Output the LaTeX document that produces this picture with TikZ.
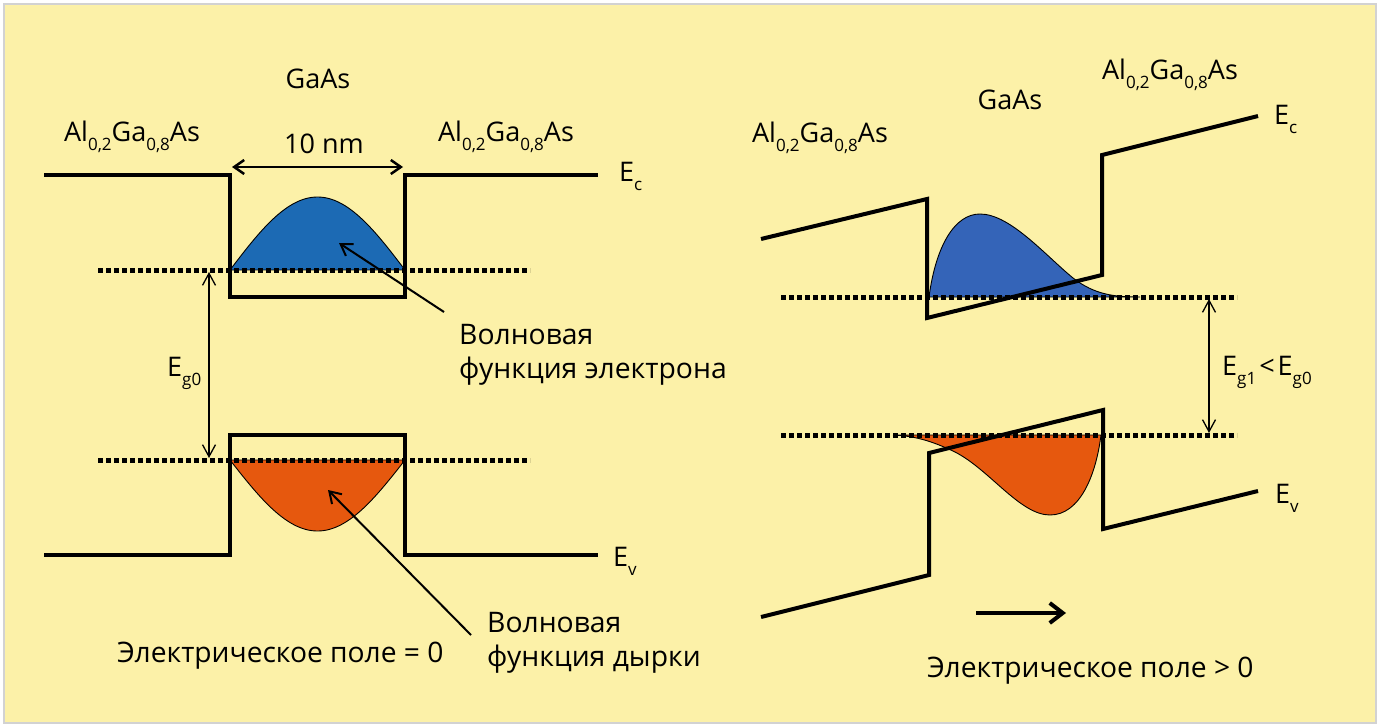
\documentclass[tikz,border=0pt]{standalone}
\usepackage{fontspec}
\setmainfont{Open Sans}
\usetikzlibrary{arrows.meta}
\definecolor{bg}{RGB}{252,241,168}
\definecolor{framec}{RGB}{210,210,210}
\definecolor{bluel}{RGB}{28,106,180}
\definecolor{bluer}{RGB}{52,100,184}
\definecolor{orng}{RGB}{230,88,14}
\newcommand\sbs[1]{\raisebox{-9pt}{\fontsize{17}{17}\selectfont #1}}
\begin{document}
\begin{tikzpicture}[x=1pt,y=-1pt,
  band/.style={line width=4pt, line join=miter, line cap=butt},
  dotl/.style={line width=5pt, dash pattern=on 5pt off 3pt},
  lbl/.style={font=\fontsize{27}{32}\selectfont, inner sep=0pt, anchor=base},
  lblw/.style={lbl, anchor=base west},
  wave/.style={font=\fontsize{28.3}{33}\selectfont, inner sep=0pt, anchor=base west},
  big/.style={font=\fontsize{28.2}{33}\selectfont, inner sep=0pt, anchor=base west},
  hump/.style={draw=black, line width=0.9pt},
  gaparrow/.style={line width=1.3pt, {Straight Barb[length=12pt,width=13pt]}-{Straight Barb[length=12pt,width=13pt]}},
  widtharrow/.style={line width=2.5pt, {Straight Barb[length=10pt,width=14pt]}-{Straight Barb[length=10pt,width=14pt]}},
  ptr/.style={line width=2pt, -{Straight Barb[length=11pt,width=14pt]}},
  fieldarrow/.style={line width=4pt, -{Straight Barb[length=13pt,width=20pt]}}
]
\useasboundingbox (0,0) rectangle (1380,727);
\fill[white] (0,0) rectangle (1380,727);
\filldraw[fill=bg, draw=framec, line width=2pt] (3.5,4.5) rectangle (1376,723);

% ---------- left diagram ----------
\fill[bluel, hump] plot[domain=230:405, samples=80] (\x, {270-73*sin((\x-230)/175*180)}) -- cycle;
\fill[orng, hump] plot[domain=230:405, samples=80] (\x, {460+71*sin((\x-230)/175*180)}) -- cycle;
\draw[dotl] (98,270) -- (530,270);
\draw[dotl] (98,460) -- (530,460);
\draw[band] (44,175) -- (230,175) -- (230,297) -- (405,297) -- (405,175) -- (598,175);
\draw[band] (44,555) -- (230,555) -- (230,435) -- (405,435) -- (405,555) -- (598,555);

\coordinate (wl) at (232,167); \coordinate (wr) at (403,167);
\draw[widtharrow] (wl) -- (wr);
\coordinate (g0t) at (209,272); \coordinate (g0b) at (209,458);
\draw[gaparrow] (g0t) -- (g0b);

\node[lbl] (gaasL) at (318,89) {GaAs};
\node[lbl] (nm) at (324,154) {10 nm};
\node[lbl] (alLL) at (132,142) {Al\sbs{0,2}Ga\sbs{0,8}As};
\node[lbl] (alLR) at (506,142) {Al\sbs{0,2}Ga\sbs{0,8}As};
\node[lblw] (ecL) at (619,182) {E\sbs{c}};
\node[lblw] (evL) at (613,566) {E\sbs{v}};
\node[lblw] (eg0) at (167,376) {E\sbs{g0}};

\node[wave] (we1) at (459,344) {Волновая};
\node[wave] (we2) at (459,378) {функция электрона};
\node[wave] (wh1) at (487,632) {Волновая};
\node[wave] (wh2) at (487,666) {функция дырки};
\coordinate (pe0) at (444,312); \coordinate (pe1) at (339,243);
\coordinate (ph0) at (471,635); \coordinate (ph1) at (328,490);
\draw[ptr] (pe0) -- (pe1);
\draw[ptr] (ph0) -- (ph1);
\node[big] (fieldL) at (117,662) {Электрическое поле = 0};

% ---------- right diagram ----------
\fill[bluer, hump] (929,297) .. controls (936,245) and (955,214) .. (980,214)
  .. controls (1010,214) and (1045,255) .. (1073,278)
  .. controls (1095,295) and (1115,297) .. (1140,297) -- cycle;
\fill[orng, hump] (893,435) .. controls (915,436) and (932,441) .. (955,452)
  .. controls (990,470) and (1020,515) .. (1050,515)
  .. controls (1080,515) and (1096,475) .. (1101,435) -- cycle;
\draw[dotl] (781,297) -- (1237,297);
\draw[dotl] (781,435) -- (1237,435);
\draw[band] (761,239) -- (927,199) -- (927,318) -- (1102,275) -- (1102,155) -- (1258,116);
\draw[band] (761,617) -- (929,575) -- (929,453) -- (1103,410) -- (1103,529) -- (1258,491);

\coordinate (g1t) at (1209,299); \coordinate (g1b) at (1209,433);
\draw[gaparrow] (g1t) -- (g1b);
\coordinate (fa0) at (976,613); \coordinate (fa1) at (1066,613);
\draw[fieldarrow] (fa0) -- (fa1);

\node[lbl] (gaasR) at (1010,110) {GaAs};
\node[lbl] (alRL) at (820,143) {Al\sbs{0,2}Ga\sbs{0,8}As};
\node[lbl] (alRR) at (1170,80) {Al\sbs{0,2}Ga\sbs{0,8}As};
\node[lblw] (ecR) at (1274,125) {E\sbs{c}};
\node[lblw] (evR) at (1275,503) {E\sbs{v}};
\node[lblw] (eg1) at (1222,375) {E\sbs{g1}\hspace{3pt}<\hspace{3pt}E\sbs{g0}};
\node[big] (fieldR) at (927,677) {Электрическое поле > 0};
\end{tikzpicture}
\end{document}
